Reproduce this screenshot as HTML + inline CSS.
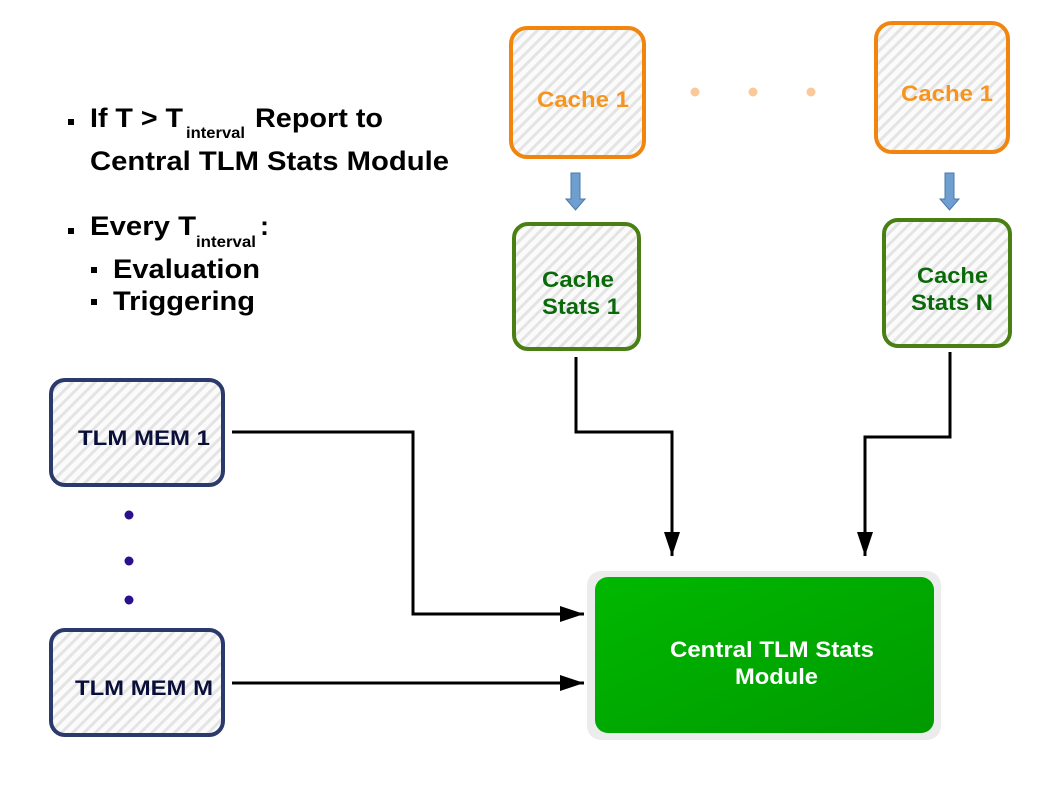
<!DOCTYPE html>
<html><head><meta charset="utf-8"><style>
html,body{margin:0;padding:0;background:#fff;width:1058px;height:794px;overflow:hidden}
svg{display:block}
text{font-family:"Liberation Sans",Arial,sans-serif;font-weight:bold}
</style></head><body>
<svg width="1058" height="794" viewBox="0 0 1058 794" xmlns="http://www.w3.org/2000/svg">
<defs>
<pattern id="h" width="8" height="8" patternUnits="userSpaceOnUse" patternTransform="rotate(45)">
<rect width="8" height="8" fill="#fbfbfb"/><rect width="3" height="8" fill="#e4e4e4"/>
</pattern>
<linearGradient id="g" x1="0" y1="0" x2="1" y2="1"><stop offset="0" stop-color="#00b800"/><stop offset="1" stop-color="#009a00"/></linearGradient>
<marker id="a" markerWidth="24" markerHeight="16" refX="24" refY="8" orient="auto" markerUnits="userSpaceOnUse"><path d="M0,0 L24,8 L0,16 Z" fill="#000"/></marker>
</defs>
<!-- left text -->
<rect x="68" y="119" width="6" height="6" fill="#000"/>
<text x="90" y="127" font-size="27" textLength="93" lengthAdjust="spacingAndGlyphs">If T &gt; T</text>
<text x="186" y="138" font-size="16" textLength="59" lengthAdjust="spacingAndGlyphs">interval</text>
<text x="255" y="127" font-size="27" textLength="128" lengthAdjust="spacingAndGlyphs">Report to</text>
<text x="90" y="170" font-size="27" textLength="359" lengthAdjust="spacingAndGlyphs">Central TLM Stats Module</text>
<rect x="68" y="228" width="6" height="6" fill="#000"/>
<text x="90" y="235" font-size="27" textLength="106" lengthAdjust="spacingAndGlyphs">Every T</text>
<text x="196" y="247" font-size="16" textLength="60" lengthAdjust="spacingAndGlyphs">interval</text>
<text x="260" y="235" font-size="27">:</text>
<rect x="91" y="267" width="6" height="6" fill="#000"/>
<text x="113" y="278" font-size="27" textLength="147" lengthAdjust="spacingAndGlyphs">Evaluation</text>
<rect x="91" y="299" width="6" height="6" fill="#000"/>
<text x="113" y="310" font-size="27" textLength="142" lengthAdjust="spacingAndGlyphs">Triggering</text>

<!-- caches -->
<rect x="511" y="28" width="133" height="129" rx="16" fill="url(#h)" stroke="#f0860f" stroke-width="4"/>
<text x="537" y="107" font-size="22" fill="#f7941d" textLength="92" lengthAdjust="spacingAndGlyphs">Cache 1</text>
<rect x="876" y="23" width="132" height="129" rx="16" fill="url(#h)" stroke="#f0860f" stroke-width="4"/>
<text x="901" y="101" font-size="22" fill="#f7941d" textLength="92" lengthAdjust="spacingAndGlyphs">Cache 1</text>
<circle cx="695" cy="92" r="4.5" fill="#fbc999"/><circle cx="753" cy="92" r="4.5" fill="#fbc999"/><circle cx="811" cy="92" r="4.5" fill="#fbc999"/>
<path d="M571,173 h9 v26 h5 l-9.5,11 l-9.5,-11 h5 z" fill="#6f9fd0" stroke="#4a78aa"/>
<path d="M945,173 h9 v26 h5 l-9.5,11 l-9.5,-11 h5 z" fill="#6f9fd0" stroke="#4a78aa"/>
<rect x="514" y="224" width="125" height="125" rx="14" fill="url(#h)" stroke="#4a7f14" stroke-width="4"/>
<text x="542" y="287" font-size="22" fill="#0a6a0a" textLength="72" lengthAdjust="spacingAndGlyphs">Cache</text>
<text x="542" y="314" font-size="22" fill="#0a6a0a" textLength="78" lengthAdjust="spacingAndGlyphs">Stats 1</text>
<rect x="884" y="220" width="126" height="126" rx="14" fill="url(#h)" stroke="#4a7f14" stroke-width="4"/>
<text x="917" y="283" font-size="22" fill="#0a6a0a" textLength="71" lengthAdjust="spacingAndGlyphs">Cache</text>
<text x="911" y="310" font-size="22" fill="#0a6a0a" textLength="82" lengthAdjust="spacingAndGlyphs">Stats N</text>

<!-- TLM MEM -->
<rect x="51" y="380" width="172" height="105" rx="14" fill="url(#h)" stroke="#2b3a6b" stroke-width="4"/>
<text x="78" y="445" font-size="21" fill="#0a0f3a" textLength="132" lengthAdjust="spacingAndGlyphs">TLM MEM 1</text>
<rect x="51" y="630" width="172" height="105" rx="14" fill="url(#h)" stroke="#2b3a6b" stroke-width="4"/>
<text x="75" y="695" font-size="21" fill="#0a0f3a" textLength="138" lengthAdjust="spacingAndGlyphs">TLM MEM M</text>
<circle cx="129" cy="515" r="4.5" fill="#2a0f8f"/><circle cx="129" cy="561" r="4.5" fill="#2a0f8f"/><circle cx="129" cy="600" r="4.5" fill="#2a0f8f"/>

<!-- central -->
<rect x="587" y="571" width="354" height="169" rx="14" fill="#ececec"/>
<rect x="595" y="577" width="339" height="156" rx="13" fill="url(#g)"/>
<text x="670" y="657" font-size="22" fill="#fff" textLength="204" lengthAdjust="spacingAndGlyphs">Central TLM Stats</text>
<text x="735" y="684" font-size="22" fill="#fff" textLength="83" lengthAdjust="spacingAndGlyphs">Module</text>

<!-- connectors -->
<g stroke="#000" stroke-width="3" fill="none">
<path d="M232,432 H413 V614 H584" marker-end="url(#a)"/>
<path d="M232,683 H584" marker-end="url(#a)"/>
<path d="M576,357 V432 H672 V556" marker-end="url(#a)"/>
<path d="M950,352 V437 H865 V556" marker-end="url(#a)"/>
</g>
</svg>
</body></html>
